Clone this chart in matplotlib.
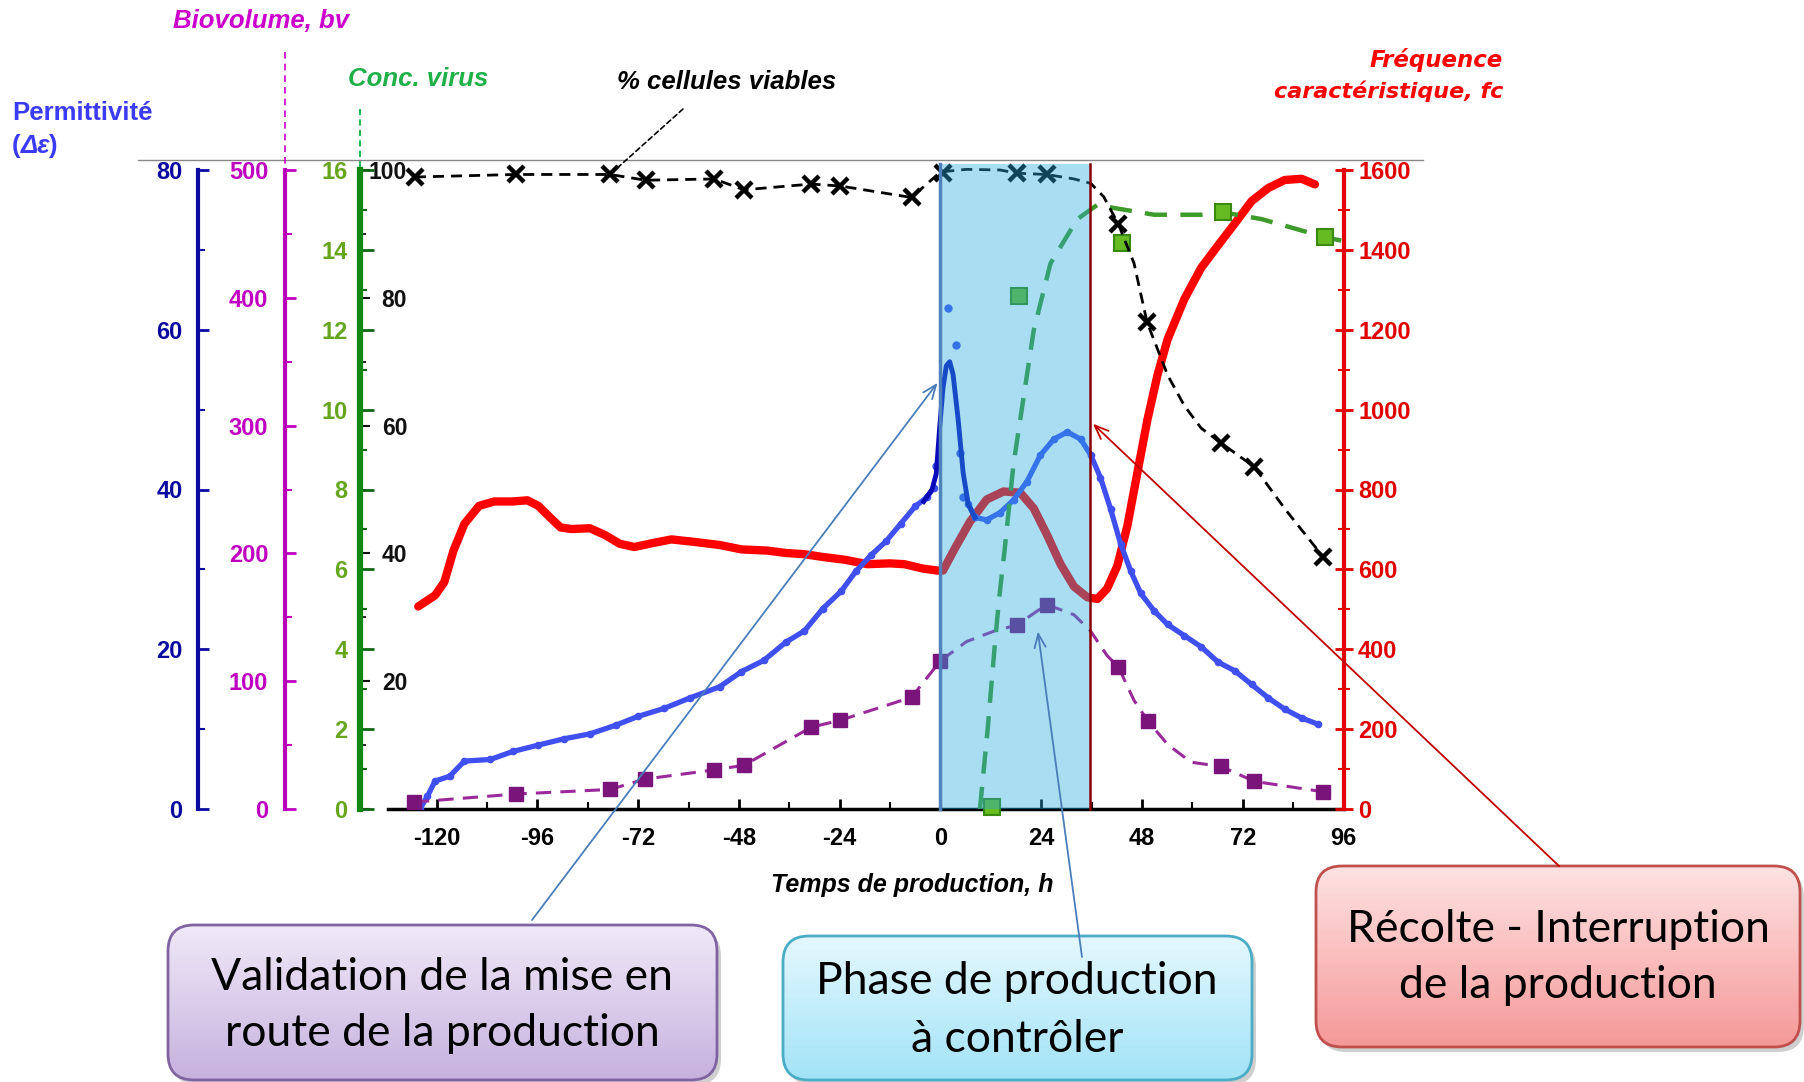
import numpy as np
import matplotlib.pyplot as plt
from matplotlib.patches import FancyBboxPatch
from matplotlib.colors import LinearSegmentedColormap
from matplotlib.ticker import MultipleLocator

plt.rcParams['font.family'] = ['Liberation Sans', 'DejaVu Sans']
plt.rcParams['font.weight'] = 'bold'
plt.rcParams['axes.unicode_minus'] = False

# ---------------- values ----------------
hour_ticks = [-120, -96, -72, -48, -24, 0, 24, 48, 72, 96]
phase_start = 0.0
phase_end = 35.6

# % cellules viables (markers) and the dashed trend through them
viab_h = [-125.2, -101.2, -78.7, -70.2, -53.9, -46.8, -30.8, -23.9, -6.9, 0.5,
          18.2, 25.3, 42.4, 49.2, 66.8, 74.8, 91.1]
viab = [98.9, 99.3, 99.3, 98.4, 98.6, 96.9, 97.8, 97.5, 95.7, 99.5,
        99.5, 99.3, 91.5, 76.2, 57.3, 53.5, 39.5]
viab_trend_h = [-125.2, -101.2, -78.7, -70.2, -53.9, -46.8, -30.8, -23.9, -6.9, 0.0,
                6.2, 14.2, 18.2, 25.3, 31.8, 35.8, 38.9, 42.4, 46.1, 49.2,
                54.1, 58.1, 62.1, 66.8, 74.8, 82.0, 91.1]
viab_trend = [98.9, 99.3, 99.3, 98.4, 98.6, 96.9, 97.8, 97.5, 95.7, 99.7,
              100.1, 100.0, 99.5, 99.3, 98.6, 97.9, 95.8, 91.5, 85.4, 76.2,
              67.9, 63.1, 59.6, 57.3, 53.5, 47.0, 39.5]

# biovolume
bv_h = [-125.4, -101.2, -78.7, -70.4, -53.9, -46.8, -30.8, -23.9, -6.9, 0.0,
        18.2, 25.3, 42.4, 49.5, 66.8, 74.8, 91.1]
bv = [5.4, 11.7, 15.3, 23.4, 30.6, 34.2, 64, 69.4, 87.4, 116,
      144, 160, 111, 68.5, 33.3, 21.6, 13.5]
bv_trend_h = [-125.4, -101.2, -78.7, -70.4, -53.9, -46.8, -30.8, -23.9, -6.9, 0.0,
              6.2, 12.6, 18.2, 25.3, 31.8, 35.8, 39.7, 42.4, 46.1, 49.5,
              54.1, 59.7, 66.8, 74.8, 91.1]
bv_trend = [5.4, 11.7, 15.3, 23.4, 30.6, 34.2, 64, 69.4, 87.4, 116,
            131, 139, 144, 160, 152, 139, 120, 111, 85, 68.5,
            50.5, 36.6, 33.3, 21.6, 13.5]

# concentration virus
virus_h = [12.2, 18.6, 43.3, 67.3, 91.6]
virus = [0.05, 12.85, 14.16, 14.94, 14.33]
virus_fit_h = [9.4, 11.2, 13.0, 14.0, 15.2, 17.4, 22.2, 26.2, 32.6, 37.4,
               41.3, 50.9, 62.1, 67.3, 76.5, 91.2, 96.4]
virus_fit = [0.0, 1.95, 4.18, 5.3, 6.41, 8.64, 11.98, 13.66, 14.77, 15.13,
             15.05, 14.88, 14.88, 14.94, 14.77, 14.33, 14.21]

# permittivite (raw trace, isolated points, fitted spike)
perm_h = [-124.0, -122.2, -120.4, -116.9, -113.4, -107.2, -101.9, -95.8, -89.6, -83.5,
          -77.3, -72.0, -65.8, -59.7, -52.6, -47.4, -42.1, -36.8, -32.4, -28.0,
          -23.6, -20.1, -16.5, -13.0, -9.5, -6.0, -3.3, -1.6, 0.0, 6.6,
          8.2, 11.0, 14.2, 17.4, 20.6, 23.8, 27.0, 30.2, 33.4, 35.8,
          38.1, 40.5, 42.9, 45.3, 47.7, 50.9, 54.1, 58.1, 62.1, 66.1,
          70.1, 74.1, 78.1, 82.0, 86.0, 90.0]
perm = [0.0, 1.6, 3.5, 4.1, 6.0, 6.2, 7.2, 8.0, 8.8, 9.4,
        10.5, 11.6, 12.6, 13.9, 15.3, 17.2, 18.6, 20.9, 22.3, 25.1,
        27.3, 29.8, 31.8, 33.5, 35.7, 37.9, 39.0, 40.2, np.nan, 38.2,
        36.5, 36.2, 37.1, 38.7, 41.0, 44.3, 46.3, 47.2, 46.3, 44.3,
        41.5, 37.6, 33.2, 29.8, 27.0, 24.8, 23.1, 21.7, 20.3, 18.4,
        17.3, 15.6, 13.9, 12.5, 11.4, 10.6]
perm_pts_h = [-1.0, 1.7, 3.6, 4.6, 5.4]
perm_pts = [43.0, 62.7, 58.1, 44.6, 39.0]
perm_fit_h = [-4.0, -2.0, -1.0, -0.2, 0.6, 1.4, 2.2, 3.0, 4.2, 5.4, 6.6, 8.2]
perm_fit = [38.5, 40.0, 42.0, 47.7, 52.7, 55.5, 56.0, 54.4, 48.8, 42.1, 38.2, 36.5]

# frequence caracteristique
fc_h = [-124.4, -120.4, -118.2, -116.0, -113.4, -109.9, -106.3, -101.9, -98.4, -95.8,
        -93.1, -90.5, -87.9, -83.5, -79.9, -76.4, -72.9, -68.5, -64.1, -58.8,
        -52.6, -47.4, -41.2, -36.8, -32.4, -28.0, -22.7, -17.4, -12.1, -8.6,
        -4.2, -0.7, 0.6, 3.4, 7.0, 11.0, 15.0, 19.0, 22.2, 25.4,
        28.6, 31.8, 35.0, 37.4, 39.7, 42.1, 44.5, 46.9, 49.3, 51.7,
        54.1, 58.1, 62.1, 66.1, 70.1, 74.1, 78.1, 82.0, 86.0, 89.2]
fc = [507, 535, 568, 647, 714, 759, 770, 770, 773, 759,
      731, 705, 701, 703, 686, 664, 656, 666, 675, 669,
      661, 650, 647, 641, 638, 631, 624, 613, 615, 613,
      602, 597, 597, 652, 719, 775, 795, 792, 753, 686,
      613, 557, 530, 526, 552, 608, 708, 842, 975, 1087,
      1176, 1277, 1355, 1411, 1466, 1522, 1555, 1575, 1578, 1564]

# callout targets (hour, % scale)
callout_start = (-0.7, 66.7)
callout_phase = (23.2, 27.8)
callout_harvest = (36.3, 60.3)
viab_pointer = (-78.7, 99.3)

# ---------------- figure ----------------
W, H = 1804, 1082
fig = plt.figure(figsize=(W / 100, H / 100), dpi=100)

bg = fig.add_axes([0, 0, 1, 1])
bg.set_xlim(0, W)
bg.set_ylim(H, 0)
bg.set_autoscale_on(False)
bg.axis('off')

X0, X1, Y0, Y1 = 388, 1343.5, 170, 809
ax = fig.add_axes([X0 / W, 1 - Y1 / H, (X1 - X0) / W, (Y1 - Y0) / H])
ax.patch.set_visible(False)
ax.set_xlim(-131.6, 96)
ax.set_ylim(0, 100)
for s in ('top', 'right', 'left'):
    ax.spines[s].set_visible(False)
ax.spines['bottom'].set_linewidth(2.5)
ax.set_xticks(hour_ticks)
ax.xaxis.set_minor_locator(MultipleLocator(12))
ax.tick_params(axis='x', which='major', direction='in', length=7, width=2,
               labelsize=17, pad=13)
ax.tick_params(axis='x', which='minor', direction='in', length=5, width=1.5)
ax.spines['left'].set_position(('axes', (360 - X0) / (X1 - X0)))
ax.set_yticks([0, 20, 40, 60, 80, 100], ['', '20', '40', '60', '80', '100'])
ax.yaxis.set_minor_locator(MultipleLocator(10))
ax.tick_params(axis='y', which='major', direction='in', length=7, width=1.5,
               labelsize=16.5, pad=-34, colors='#111111')
ax.tick_params(axis='y', which='minor', direction='in', length=4, width=1.2)


def side_axis(pos_px, color, lw, lim):
    t = ax.twinx()
    t.yaxis.tick_left()
    t.yaxis.set_label_position('left')
    for s in ('right', 'top', 'bottom'):
        t.spines[s].set_visible(False)
    t.spines['left'].set_position(('axes', (pos_px - X0) / (X1 - X0)))
    t.spines['left'].set_color(color)
    t.spines['left'].set_linewidth(lw)
    t.set_ylim(*lim)
    return t


# red fc axis on the right
ax_fc = ax.twinx()
for s in ('left', 'top', 'bottom'):
    ax_fc.spines[s].set_visible(False)
ax_fc.spines['right'].set_color('#E00000')
ax_fc.spines['right'].set_linewidth(3)
ax_fc.set_ylim(0, 1600)
ax_fc.yaxis.set_major_locator(MultipleLocator(200))
ax_fc.yaxis.set_minor_locator(MultipleLocator(100))
ax_fc.tick_params(axis='y', which='major', direction='inout', length=13, width=2,
                  colors='#E00000', labelsize=17, pad=4)
ax_fc.tick_params(axis='y', which='minor', direction='inout', length=8, width=1.5,
                  colors='#E00000')
ax_fc.plot(fc_h, fc, color='#FF0000', lw=6, solid_capstyle='round',
           solid_joinstyle='round', zorder=3)

# permittivity
ax_p = side_axis(198, '#0A0AA0', 3, (0, 80))
ax_p.yaxis.set_major_locator(MultipleLocator(20))
ax_p.yaxis.set_minor_locator(MultipleLocator(10))
ax_p.tick_params(axis='y', which='major', direction='in', length=8, width=2,
                 colors='#0A0AA0', labelsize=17, pad=11)
ax_p.tick_params(axis='y', which='minor', direction='in', length=5, width=1.5,
                 colors='#0A0AA0')
ax_p.plot(perm_h, perm, color='#3F4FF0', lw=3.8, marker='o', ms=4.5, zorder=3)
ax_p.plot(perm_pts_h, perm_pts, ls='none', marker='o', ms=5, color='#3F4FF0')
ax_p.plot(perm_fit_h, perm_fit, color='#0A0AB8', lw=3.5, zorder=4)

# biovolume
ax_b = side_axis(285, '#B800B8', 3, (0, 500))
ax_b.yaxis.set_major_locator(MultipleLocator(100))
ax_b.yaxis.set_minor_locator(MultipleLocator(50))
ax_b.tick_params(axis='y', which='major', direction='in', length=8, width=2,
                 colors='#C000C0', labelsize=17, pad=12)
ax_b.tick_params(axis='y', which='minor', direction='in', length=5, width=1.5,
                 colors='#C000C0')
ax_b.plot(bv_trend_h, bv_trend, color='#9A2A9A', lw=2.2, ls=(0, (5, 3)))
ax_b.plot(bv_h, bv, ls='none', marker='s', ms=10.5, color='#7A147A')

# virus concentration
ax_v = side_axis(360, '#118811', 4.5, (0, 16))
ax_v.yaxis.set_major_locator(MultipleLocator(2))
ax_v.yaxis.set_minor_locator(MultipleLocator(1))
ax_v.tick_params(axis='y', which='major', direction='in', length=10, width=2,
                 color='#116611', labelcolor='#66A61E', labelsize=17, pad=9)
ax_v.tick_params(axis='y', which='minor', direction='in', length=5, width=1.5,
                 color='#116611')
ax_v.plot(virus_fit_h, virus_fit, color='#3E9A2A', lw=3.2, ls=(0, (5, 3)))
ax_v.plot(virus_h, virus, ls='none', marker='s', ms=11, mfc='#66BB22',
          mec='#3A8A10', mew=1.5, clip_on=False)

# viable cells on top
ax_c = ax.twinx()
ax_c.set_ylim(0, 100)
ax_c.axis('off')
ax_c.plot(viab_trend_h, viab_trend, color='black', lw=2, ls=(0, (4, 2.5)),
          clip_on=False)
ax_c.plot(viab_h, viab, ls='none', marker='x', ms=12, mew=3.2, color='black',
          clip_on=False)

# production phase shading and callouts
sh = ax.twinx()
sh.set_ylim(0, 100)
sh.axis('off')
sh.axvspan(phase_start, phase_end, ymin=0, ymax=1.009, color='#2AABDE',
           alpha=0.4, lw=0, clip_on=False)
sh.axvline(phase_start, ymax=1.009, color='#4F81BD', lw=2.5, clip_on=False)
sh.axvline(phase_end, ymax=1.009, color='#8B0000', lw=1.8, clip_on=False)

head = '->,head_length=1.0,head_width=0.4'
for tip, start, col in [(callout_start, (532, 920), '#4A7EBB'),
                        (callout_phase, (1082, 957), '#4A7EBB'),
                        (callout_harvest, (1559, 866), '#C00000')]:
    sh.annotate('', xy=tip, xytext=start, textcoords=bg.transData,
                arrowprops=dict(arrowstyle=head, color=col, lw=1.3,
                                shrinkA=0, shrinkB=0),
                annotation_clip=False)
sh.annotate('', xy=viab_pointer, xytext=(683, 109), textcoords=bg.transData,
            arrowprops=dict(arrowstyle='-', color='black', lw=1.2, ls=(0, (3, 2)),
                            shrinkA=0, shrinkB=6),
            annotation_clip=False)

# ---------------- titles and decorations (pixel space) ----------------
bg.axhline(160, xmin=138 / W, xmax=1423 / W, color='#888888', lw=1)
bg.vlines(285, 52, 168, colors='#CC00CC', lw=1.2, linestyles=(0, (4, 3)))
bg.vlines(360, 109, 168, colors='#22BB55', lw=1.5, linestyles=(0, (3, 2)))

bg.text(261, 21, 'Biovolume, bv', color='#CC00CC', fontsize=18.5, style='italic',
        ha='center', va='center')
bg.text(418, 79, 'Conc. virus', color='#20B048', fontsize=18.5, style='italic',
        ha='center', va='center')
bg.text(727, 82, '% cellules viables', color='black', fontsize=18.5, style='italic',
        ha='center', va='center')
bg.text(12, 113, 'Permittivité', color='#3B3BF5', fontsize=18.5, va='center')
bg.text(12, 146, '(', color='#3B3BF5', fontsize=18.5, va='center')
bg.text(21, 146, 'Δε', color='#3B3BF5', fontsize=18.5, style='italic', va='center')
bg.text(48, 146, ')', color='#3B3BF5', fontsize=18.5, va='center')
bg.text(1503, 60, 'Fréquence', color='#FF0000', fontsize=16.5, style='italic',
        family='DejaVu Sans', ha='right', va='center')
bg.text(1503, 91, 'caractéristique, fc', color='#FF0000', fontsize=16,
        style='italic', family='DejaVu Sans', ha='right', va='center')
bg.text(912, 885, 'Temps de production, h', color='black', fontsize=18,
        style='italic', ha='center', va='center')


def grad_box(x0, y0, x1, y1, top, bottom, edge, lines, cx, ys):
    shadow = FancyBboxPatch((x0 + 4, y0 + 5), x1 - x0, y1 - y0,
                            boxstyle='round,pad=0,rounding_size=26',
                            fc='#777777', ec='none', alpha=0.35, zorder=1)
    bg.add_patch(shadow)
    frame = FancyBboxPatch((x0, y0), x1 - x0, y1 - y0,
                           boxstyle='round,pad=0,rounding_size=26',
                           fc='none', ec=edge, lw=2, zorder=3)
    bg.add_patch(frame)
    cmap = LinearSegmentedColormap.from_list('g', [top, bottom])
    img = bg.imshow(np.linspace(0, 1, 256).reshape(-1, 1), cmap=cmap,
                    extent=(x0, x1, y1, y0), aspect='auto', zorder=2)
    img.set_clip_path(frame)
    for line, y in zip(lines, ys):
        bg.text(cx, y, line, fontsize=32, family='Lato', fontweight='normal',
                ha='center', va='center', color='black', zorder=4)


grad_box(168, 925, 717, 1080, '#F0E9F8', '#C6B1DE', '#8064A2',
         ['Validation de la mise en', 'route de la production'], 442, [978, 1034])
grad_box(783, 936, 1252, 1080, '#E4F8FE', '#A2E3F7', '#4BACC6',
         ['Phase de production', 'à contrôler'], 1017, [981, 1039])
grad_box(1316, 866, 1800, 1047, '#FEE3E3', '#F59898', '#C0504D',
         ['Récolte - Interruption', 'de la production'], 1558, [930, 986])

bg.set_xlim(0, W)
bg.set_ylim(H, 0)

fig.savefig('out.png', dpi=100)
